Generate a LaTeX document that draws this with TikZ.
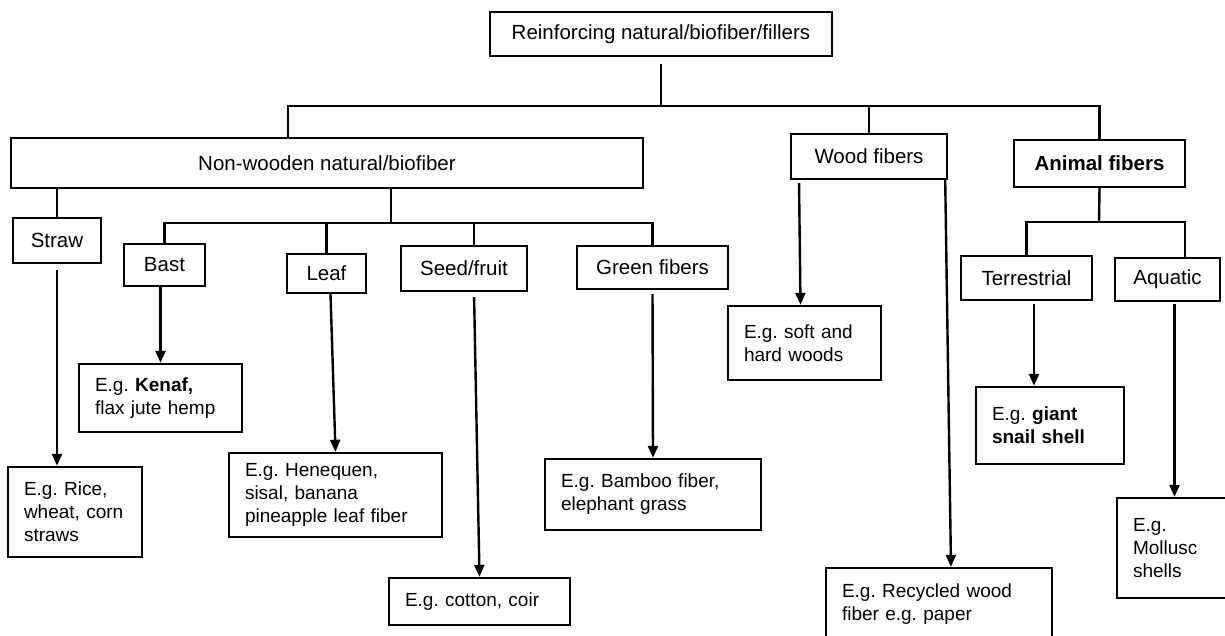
\documentclass[tikz,border=0pt]{standalone}
\usepackage{fontspec}
\setmainfont{Liberation Sans}
\usetikzlibrary{arrows.meta,calc}
\frenchspacing

\begin{document}
\begin{tikzpicture}[x=1pt,y=-1pt,>={Triangle[length=12pt,width=10pt]},
                    line width=2.4pt]
  \tikzstyle{head}=[draw,line width=2.4pt,inner sep=2pt,font=\fontsize{20.5}{24}\selectfont]
  \tikzstyle{eg}=[draw,line width=2.4pt,inner xsep=16pt,inner ysep=2pt,align=left,
                  font=\fontsize{19}{23}\selectfont]

  \useasboundingbox (0,0) rectangle (1225,635);

  % main groups
  \node[head,minimum width=342pt,minimum height=44pt] (root)    at (661,34)    {Reinforcing natural/biofiber/fillers};
  \node[head,minimum width=632pt,minimum height=50pt] (nonwood) at (327,163)   {Non-wooden natural/biofiber};
  \node[head,minimum width=156pt,minimum height=45pt] (wood)    at (869,156.5) {Wood fibers};
  \node[head,line width=1.3pt,minimum width=171pt,minimum height=47pt] (animal) at (1099.5,163.5) {\textbf{Animal fibers}};

  % sub groups
  \node[head,minimum width=88pt,minimum height=45pt]  (straw) at (57,240.5)    {Straw};
  \node[head,minimum width=81pt,minimum height=42pt]  (bast)  at (164.5,265)   {Bast};
  \node[head,minimum width=79pt,minimum height=39pt]  (leaf)  at (326.5,273.5) {Leaf};
  \node[head,minimum width=126pt,minimum height=45pt] (seed)  at (464,268.5)   {Seed/fruit};
  \node[head,minimum width=151pt,minimum height=43pt] (green) at (652.5,267.5) {Green fibers};
  \node[head,minimum width=131pt,minimum height=44pt] (terr)  at (1026.5,278)  {Terrestrial};
  \node[head,minimum width=105pt,minimum height=43pt] (aqua)  at (1167.5,279.5) {Aquatic};

  % examples
  \node[eg,text width=102pt,minimum height=90pt] (rice)   at (75,512)     {E.g. Rice,\\wheat, corn\\straws};
  \node[eg,text width=131pt,minimum height=68pt] (kenaf)  at (160.5,398)  {E.g. \textbf{Kenaf,}\\flax jute hemp};
  \node[eg,text width=181pt,minimum height=84pt] (hene)   at (335.5,495)  {E.g. Henequen,\\sisal, banana\\pineapple leaf fiber};
  \node[eg,text width=149pt,minimum height=47pt] (cotton) at (479.5,601.5) {E.g. cotton, coir};
  \node[eg,text width=184pt,minimum height=71pt] (bamboo) at (653,494.5)  {E.g. Bamboo fiber,\\elephant grass};
  \node[eg,text width=121pt,minimum height=74pt] (soft)   at (804.5,343)  {E.g. soft and\\hard woods};
  \node[eg,text width=194pt,minimum height=72pt] (recyc)  at (939,604)    {E.g. Recycled wood\\fiber e.g. paper};
  \node[eg,text width=116pt,minimum height=77pt] (snail)  at (1050,425.5) {E.g. \textbf{giant}\\\textbf{snail shell}};
  \node[eg,text width=83pt,minimum height=100pt] (moll)   at (1174.5,548) {E.g.\\Mollusc\\shells};

  % tree lines
  \coordinate (hub)  at (663,106);
  \coordinate (sub)  at (391,223);
  \coordinate (asub) at (1099,222);
  \draw[shorten <=7pt] (root.south) -- (root.south |- hub);
  \draw ($(nonwood.north)+(-39,0)$) |- (hub) -| (animal.north);
  \draw (wood.north) -- (wood.north |- hub);

  \draw (straw.north) -- (straw.north |- nonwood.south);
  \draw (nonwood.south -| sub) -- (sub);
  \draw (bast.north) |- (sub) -| (green.north);
  \draw (leaf.north) -- (leaf.north |- sub);
  \coordinate (seedtap) at ($(seed.north)+(10,0)$);
  \draw (seedtap) -- (seedtap |- sub);

  \draw (animal.south) -- (asub);
  \draw (terr.north) |- (asub) -| ($(aqua.north)+(17.5,0)$);

  % arrows to examples
  \draw[->,shorten <=6pt] (straw.south) -- (straw.south |- rice.north);
  \draw[->] (kenaf.north |- bast.south) -- (kenaf.north);
  \draw[->] ($(leaf.south)+(4,0)$) -- (hene.north);
  \draw[->,shorten <=5pt] ($(seed.south)+(10,0)$) -- (cotton.north);
  \draw[->,shorten <=4pt] (green.south) -- (bamboo.north);
  \draw[->,shorten <=3pt] ($(wood.south)+(-70,0)$) -- ($(soft.north)+(-4,0)$);
  \draw[->] ($(wood.south east)+(-3,0)$) -- ($(recyc.north)+(12,0)$);
  \draw[->,shorten <=3pt] ($(terr.south)+(7.5,0)$) -- ($(snail.north)+(-16,0)$);
  \draw[->,shorten <=2pt] (aqua.south -| moll.north) -- (moll.north);
\end{tikzpicture}
\end{document}
